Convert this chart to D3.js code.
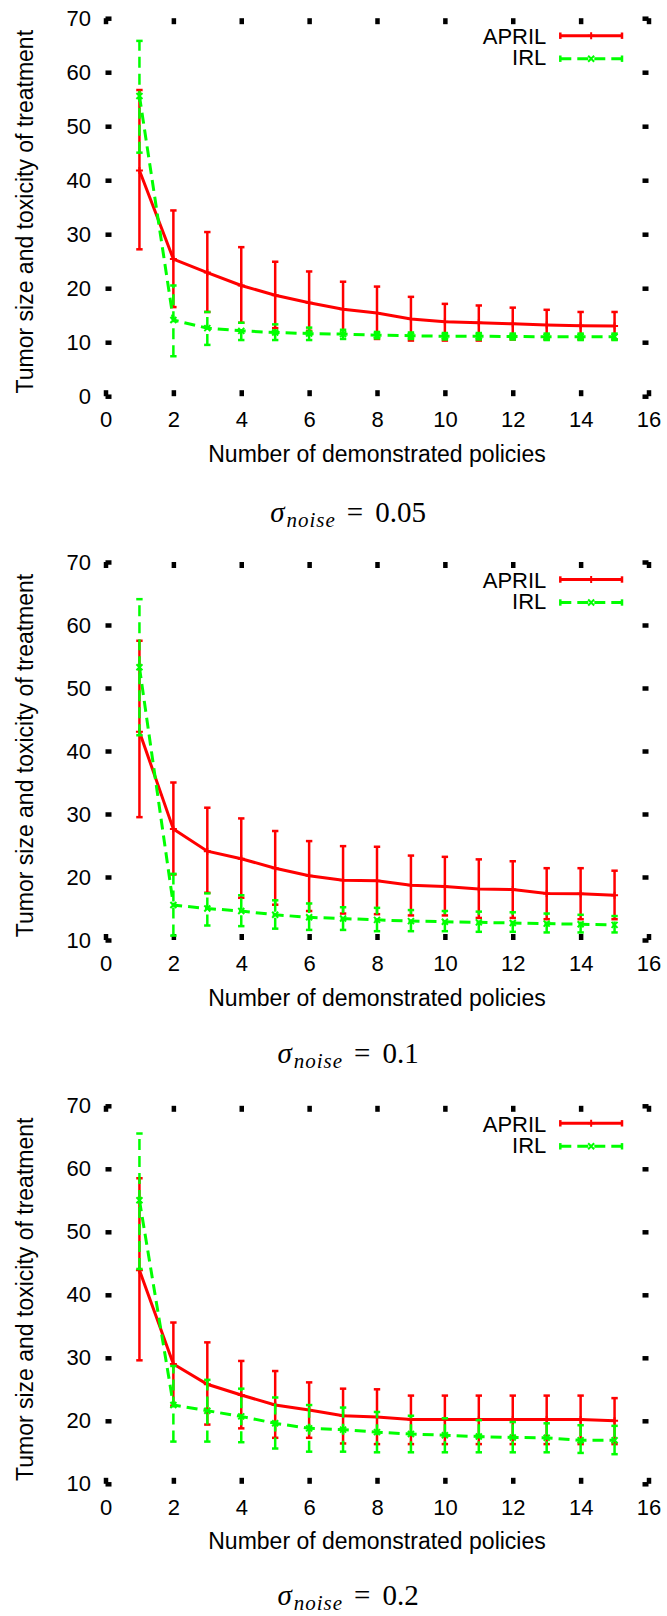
<!DOCTYPE html>
<html>
<head>
<meta charset="utf-8">
<script src="https://cdn.jsdelivr.net/npm/d3@7"></script>
<style>
  html, body { margin: 0; padding: 0; background: #fff; }
  svg { display: block; }
  .tick text { font-family: "Liberation Sans", Arial, Helvetica, sans-serif; font-size: 22px; fill: #000; }
</style>
</head>
<body>
<script>
// Number of demonstrated policies (x positions of every series)
const policies = [1, 2, 3, 4, 5, 6, 7, 8, 9, 10, 11, 12, 13, 14, 15];

// sigma_noise = 0.05
const aprilMean005 = [41.8, 25.4, 22.9, 20.5, 18.7, 17.3, 16.1, 15.4, 14.3, 13.8, 13.6, 13.4, 13.2, 13.05, 13.0];
const aprilLow005  = [27.2, 16.5, 15.6, 13.6, 12.6, 12.1, 11.6, 10.6, 10.3, 10.3, 10.3, 10.5, 10.5, 10.5, 10.5];
const aprilHigh005 = [56.7, 34.4, 30.4, 27.6, 24.9, 23.1, 21.2, 20.3, 18.4, 17.1, 16.8, 16.4, 16.0, 15.6, 15.6];
const irlMean005   = [55.6, 14.1, 12.6, 12.1, 11.8, 11.6, 11.5, 11.3, 11.2, 11.1, 11.1, 11.05, 11.0, 11.0, 11.0];
const irlLow005    = [45.1, 7.4, 9.5, 10.4, 10.4, 10.4, 10.6, 10.7, 10.6, 10.5, 10.5, 10.5, 10.4, 10.4, 10.4];
const irlHigh005   = [65.8, 20.5, 15.6, 13.6, 13.3, 12.7, 12.3, 11.9, 11.8, 11.7, 11.7, 11.6, 11.6, 11.6, 11.6];

// sigma_noise = 0.1
const aprilMean01 = [43.05, 27.6, 24.1, 22.9, 21.4, 20.2, 19.5, 19.4, 18.7, 18.5, 18.1, 18.0, 17.4, 17.35, 17.1];
const aprilLow01  = [29.5, 20.4, 17.5, 16.7, 15.6, 14.6, 14.2, 14.1, 13.9, 13.9, 13.5, 13.5, 13.3, 13.3, 13.3];
const aprilHigh01 = [57.5, 35.0, 31.0, 29.3, 27.3, 25.7, 24.9, 24.8, 23.4, 23.2, 22.8, 22.5, 21.4, 21.4, 21.0];
const irlMean01   = [53.3, 15.55, 15.0, 14.6, 14.0, 13.6, 13.4, 13.2, 13.0, 12.9, 12.8, 12.7, 12.6, 12.5, 12.4];
const irlLow01    = [42.5, 10.7, 12.3, 12.2, 11.8, 11.6, 11.6, 11.4, 11.4, 11.4, 11.3, 11.3, 11.2, 11.2, 11.2];
const irlHigh01   = [64.1, 20.5, 17.4, 17.1, 16.3, 15.8, 15.2, 15.1, 14.75, 14.6, 14.5, 14.4, 14.2, 14.0, 13.8];

// sigma_noise = 0.2
const aprilMean02 = [43.9, 29.0, 25.8, 24.1, 22.5, 21.7, 20.8, 20.6, 20.2, 20.2, 20.2, 20.2, 20.2, 20.2, 20.0];
const aprilLow02  = [29.6, 22.4, 19.4, 18.8, 17.3, 17.3, 16.4, 16.3, 16.3, 16.3, 16.3, 16.3, 16.3, 16.3, 16.3];
const aprilHigh02 = [58.5, 35.6, 32.45, 29.5, 27.9, 26.1, 25.1, 25.0, 24.0, 24.0, 24.0, 24.0, 24.0, 24.0, 23.6];
const irlMean02   = [55.0, 22.5, 21.6, 20.7, 19.6, 18.8, 18.6, 18.2, 17.9, 17.7, 17.5, 17.35, 17.3, 16.9, 16.9];
const irlLow02    = [44.1, 16.7, 16.7, 16.6, 15.6, 15.1, 15.1, 15.0, 15.0, 15.0, 15.0, 15.0, 15.0, 14.9, 14.7];
const irlHigh02   = [65.6, 28.7, 26.5, 25.1, 23.7, 22.5, 22.1, 21.4, 20.8, 20.4, 20.1, 19.8, 19.6, 19.3, 19.2];

// Axis ticks and texts
const xTicks = [0, 2, 4, 6, 8, 10, 12, 14, 16];
const yTicksFull = [0, 10, 20, 30, 40, 50, 60, 70];
const yTicksCut = [10, 20, 30, 40, 50, 60, 70];
const seriesNames = ["APRIL", "IRL"];
const xTitle = "Number of demonstrated policies";
const yTitle = "Tumor size and toxicity of treatment";
const noiseLevels = ["0.05", "0.1", "0.2"];

const W = 667, H = 1616;
const FONT = '"Liberation Sans", Arial, Helvetica, sans-serif';
const SERIF = '"Liberation Serif", "DejaVu Serif", "Times New Roman", serif';
const RED = "#ff0000", GREEN = "#00ff00";

const panels = [
  { yDomain: [0, 70], yTicks: yTicksFull, noise: noiseLevels[0],
    april: [aprilMean005, aprilLow005, aprilHigh005], irl: [irlMean005, irlLow005, irlHigh005] },
  { yDomain: [10, 70], yTicks: yTicksCut, noise: noiseLevels[1],
    april: [aprilMean01, aprilLow01, aprilHigh01], irl: [irlMean01, irlLow01, irlHigh01] },
  { yDomain: [10, 70], yTicks: yTicksCut, noise: noiseLevels[2],
    april: [aprilMean02, aprilLow02, aprilHigh02], irl: [irlMean02, irlLow02, irlHigh02] }
];

const svg = d3.select("body").append("svg").attr("width", W).attr("height", H);
svg.append("rect").attr("width", W).attr("height", H).attr("fill", "#fff");

const plotLeft = 105.5, plotRight = 648.5, plotH = 378;
const panelTop0 = 18.2, panelStep = 543.8;
const captionX = 348, captionY0 = 521.5, captionStep = 541.5;

function rows(s) {
  return policies.map((p, i) => ({ x: p, m: s[0][i], lo: s[1][i], hi: s[2][i] }));
}

function drawSeries(g, x, y, data, color, dash, marker) {
  const line = d3.line().x(d => x(d.x)).y(d => y(d.m));
  const s = g.append("g");
  // error bars
  const eb = s.selectAll("g.eb").data(data).join("g").attr("class", "eb");
  eb.append("line")
    .attr("x1", d => x(d.x)).attr("x2", d => x(d.x))
    .attr("y1", d => y(d.lo)).attr("y2", d => y(d.hi))
    .attr("stroke", color).attr("stroke-width", 2.5)
    .attr("stroke-dasharray", dash);
  ["lo", "hi"].forEach(k => {
    eb.append("line")
      .attr("x1", d => x(d.x) - 3.2).attr("x2", d => x(d.x) + 3.2)
      .attr("y1", d => y(d[k])).attr("y2", d => y(d[k]))
      .attr("stroke", color).attr("stroke-width", 2.5);
  });
  // mean curve
  s.append("path").datum(data)
    .attr("d", line).attr("fill", "none")
    .attr("stroke", color).attr("stroke-width", 3)
    .attr("stroke-dasharray", dash);
  // point markers
  s.selectAll("path.pt").data(data).join("path").attr("class", "pt")
    .attr("transform", d => `translate(${x(d.x)},${y(d.m)})`)
    .attr("d", marker).attr("stroke", color).attr("stroke-width", 2).attr("fill", "none");
}

const plusMark = "M-3.5,0H3.5M0,-3.5V3.5";
const crossMark = "M-3,-3L3,3M-3,3L3,-3";
const DASH = "11,6";

panels.forEach((P, pi) => {
  const top = panelTop0 + pi * panelStep;
  const bottom = top + plotH;
  const g = svg.append("g");
  const x = d3.scaleLinear().domain([0, 16]).range([plotLeft, plotRight]);
  const y = d3.scaleLinear().domain(P.yDomain).range([bottom, top]);

  // tick marks on all four sides, labels on left and bottom
  const styleAxis = sel => {
    sel.select(".domain").remove();
    sel.selectAll(".tick line").attr("stroke", "#000").attr("stroke-width", 4.5);
  };
  g.append("g").attr("transform", `translate(0,${bottom})`)
    .call(d3.axisBottom(x).tickValues(xTicks).tickSizeInner(-6).tickSizeOuter(0).tickPadding(15.4))
    .call(styleAxis);
  g.append("g").attr("transform", `translate(0,${top})`)
    .call(d3.axisTop(x).tickValues(xTicks).tickSizeInner(-6).tickSizeOuter(0).tickFormat(""))
    .call(styleAxis);
  g.append("g").attr("transform", `translate(${plotLeft},0)`)
    .call(d3.axisLeft(y).tickValues(P.yTicks).tickSizeInner(-6).tickSizeOuter(0).tickPadding(14.5))
    .call(styleAxis);
  g.append("g").attr("transform", `translate(${plotRight},0)`)
    .call(d3.axisRight(y).tickValues(P.yTicks).tickSizeInner(-6).tickSizeOuter(0).tickFormat(""))
    .call(styleAxis);
  g.selectAll(".tick text").attr("font-family", FONT).attr("font-size", 22).attr("fill", "#000");

  // series: APRIL first, IRL drawn over it
  drawSeries(g, x, y, rows(P.april), RED, null, plusMark);
  drawSeries(g, x, y, rows(P.irl), GREEN, DASH, crossMark);

  // legend
  const legend = [
    { name: seriesNames[0], color: RED, dash: null, mark: plusMark, ty: 25.8, ly: 17.5 },
    { name: seriesNames[1], color: GREEN, dash: DASH, mark: crossMark, ty: 46.8, ly: 40.5 }
  ];
  const lx1 = 560.3, lx2 = 622;
  legend.forEach(L => {
    g.append("text").attr("x", 546.3).attr("y", top + L.ty)
      .attr("text-anchor", "end").attr("font-family", FONT).attr("font-size", 22)
      .attr("fill", "#000").text(L.name);
    g.append("line").attr("x1", lx1).attr("x2", lx2)
      .attr("y1", top + L.ly).attr("y2", top + L.ly)
      .attr("stroke", L.color).attr("stroke-width", 3).attr("stroke-dasharray", L.dash);
    [lx1, lx2].forEach(cx => {
      g.append("line").attr("x1", cx).attr("x2", cx)
        .attr("y1", top + L.ly - 3.2).attr("y2", top + L.ly + 3.2)
        .attr("stroke", L.color).attr("stroke-width", 2.5);
    });
    g.append("path").attr("transform", `translate(${(lx1 + lx2) / 2},${top + L.ly})`)
      .attr("d", L.mark).attr("stroke", L.color).attr("stroke-width", 2).attr("fill", "none");
  });

  // axis titles
  g.append("text")
    .attr("transform", `translate(33.3,${top + 193.5}) rotate(-90)`)
    .attr("text-anchor", "middle").attr("font-family", FONT).attr("font-size", 23)
    .attr("fill", "#000").text(yTitle);
  g.append("text").attr("x", (plotLeft + plotRight) / 2).attr("y", top + 443.5)
    .attr("text-anchor", "middle").attr("font-family", FONT).attr("font-size", 23)
    .attr("fill", "#000").text(xTitle);

  // caption: sigma_noise = value
  const cap = g.append("text").attr("x", captionX).attr("y", captionY0 + pi * captionStep)
    .attr("text-anchor", "middle").attr("font-family", SERIF).attr("fill", "#000");
  cap.append("tspan").attr("font-style", "italic").attr("font-size", 29).text("σ");
  cap.append("tspan").attr("font-style", "italic").attr("font-size", 21)
    .attr("dx", 2).attr("dy", 5).attr("letter-spacing", 1).text("noise");
  cap.append("tspan").attr("font-size", 29).attr("dx", 11).attr("dy", -5).text("=");
  cap.append("tspan").attr("font-size", 29).attr("dx", 12).text(P.noise);
});
</script>
</body>
</html>
